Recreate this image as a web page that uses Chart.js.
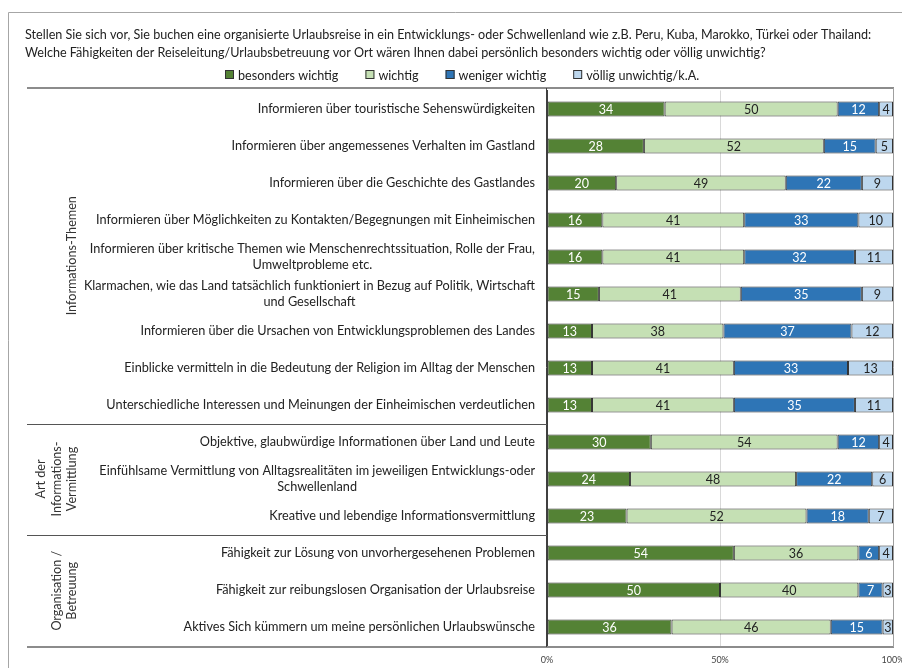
<!DOCTYPE html>
<html><head><meta charset="utf-8">
<script src="https://cdn.jsdelivr.net/npm/chart.js@4.4.1/dist/chart.umd.min.js"></script>
<style>html,body{margin:0;padding:0;background:#fff}#wrap{width:902px;height:668px;position:relative}</style>
</head><body><div id="wrap"><canvas id="c" width="902" height="668"></canvas></div>
<script>
const titleLines = [
  'Stellen Sie sich vor, Sie buchen eine organisierte Urlaubsreise in ein Entwicklungs- oder Schwellenland wie z.B. Peru, Kuba, Marokko, Türkei oder Thailand:',
  'Welche Fähigkeiten der Reiseleitung/Urlaubsbetreuung vor Ort wären Ihnen dabei persönlich besonders wichtig oder völlig unwichtig?'
];
const seriesNames = ['besonders wichtig', 'wichtig', 'weniger wichtig', 'völlig unwichtig/k.A.'];
const categories = [
  ['Informieren über touristische Sehenswürdigkeiten'],
  ['Informieren über angemessenes Verhalten im Gastland'],
  ['Informieren über die Geschichte des Gastlandes'],
  ['Informieren über Möglichkeiten zu Kontakten/Begegnungen mit Einheimischen'],
  ['Informieren über kritische Themen wie Menschenrechtssituation, Rolle der Frau,', 'Umweltprobleme etc.'],
  ['Klarmachen, wie das Land tatsächlich funktioniert in Bezug auf Politik, Wirtschaft', 'und Gesellschaft'],
  ['Informieren über die Ursachen von Entwicklungsproblemen des Landes'],
  ['Einblicke vermitteln in die Bedeutung der Religion im Alltag der Menschen'],
  ['Unterschiedliche Interessen und Meinungen der Einheimischen verdeutlichen'],
  ['Objektive, glaubwürdige Informationen über Land und Leute'],
  ['Einfühlsame Vermittlung von Alltagsrealitäten im jeweiligen Entwicklungs-oder', 'Schwellenland'],
  ['Kreative und lebendige Informationsvermittlung'],
  ['Fähigkeit zur Lösung von unvorhergesehenen Problemen'],
  ['Fähigkeit zur reibungslosen Organisation der Urlaubsreise'],
  ['Aktives Sich kümmern um meine persönlichen Urlaubswünsche']
];
const besondersWichtig = [34, 28, 20, 16, 16, 15, 13, 13, 13, 30, 24, 23, 54, 50, 36];
const wichtig          = [50, 52, 49, 41, 41, 41, 38, 41, 41, 54, 48, 52, 36, 40, 46];
const wenigerWichtig   = [12, 15, 22, 33, 32, 35, 37, 33, 35, 12, 22, 18,  6,  7, 15];
const voelligUnwichtig = [ 4,  5,  9, 10, 11,  9, 12, 13, 11,  4,  6,  7,  4,  3,  3];
const groupLabels = [['Informations-Themen'], ['Art der', 'Informations-', 'Vermittlung'], ['Organisation /', 'Betreuung']];
const groupFirst = [0, 9, 12];
const groupLast  = [8, 11, 14];
const xTickValues = [0, 50, 100];

const FONT = 'Lato';
const colors = ['#548235', '#C5E0B4', '#2E75B6', '#BDD7EE'];
const labelColors = ['#ffffff', '#222222', '#ffffff', '#222222'];
const seriesData = [besondersWichtig, wichtig, wenigerWichtig, voelligUnwichtig];

const decor = {
  id: 'decor',
  beforeDraw(chart) {
    const ctx = chart.ctx;
    ctx.save();
    ctx.strokeStyle = '#a6a6a6';
    ctx.lineWidth = 1;
    ctx.beginPath();
    ctx.moveTo(8.5, 668); ctx.lineTo(8.5, 12.5); ctx.lineTo(902, 12.5);
    ctx.stroke();
    ctx.restore();
  },
  afterDatasetsDraw(chart) {
    const ctx = chart.ctx;
    ctx.save();
    ctx.font = '12.5px ' + FONT;
    ctx.textAlign = 'center';
    ctx.textBaseline = 'middle';
    chart.data.datasets.forEach((ds, di) => {
      const meta = chart.getDatasetMeta(di);
      meta.data.forEach((el, i) => {
        const v = ds.data[i];
        ctx.fillStyle = labelColors[di];
        ctx.fillText(String(v), (el.x + el.base) / 2, el.y + 1);
      });
    });
    ctx.restore();
  },
  afterDraw(chart) {
    const ctx = chart.ctx;
    const ys = chart.scales.y;
    const area = chart.chartArea;
    ctx.save();
    // legend
    ctx.font = '12.6px ' + FONT;
    ctx.textBaseline = 'middle';
    ctx.textAlign = 'left';
    const box = 9, gapBT = 4, gapItem = 27;
    const items = chart.data.datasets.map(ds => ({ text: ds.label, bg: ds.backgroundColor, bc: ds.borderColor, w: box + gapBT + ctx.measureText(ds.label).width }));
    const total = items.reduce((a, it) => a + it.w, 0) + gapItem * (items.length - 1);
    let lx = Math.round(462 - total / 2);
    const ly = 75;
    items.forEach(it => {
      ctx.fillStyle = it.bg;
      ctx.fillRect(lx, ly - 5, box, box);
      ctx.strokeStyle = it.bc;
      ctx.lineWidth = 1;
      ctx.strokeRect(lx + 0.5, ly - 4.5, box - 1, box - 1);
      ctx.fillStyle = '#222';
      ctx.fillText(it.text, lx + box + gapBT, ly + 0.5);
      lx += it.w + gapItem;
    });
    // category labels
    ctx.font = '12.7px ' + FONT;
    ctx.fillStyle = '#222';
    ctx.textAlign = 'center';
    ctx.textBaseline = 'middle';
    const rightX = area.left - 12;
    const lh = 16;
    categories.forEach((lines, i) => {
      const y = ys.getPixelForValue(i);
      const w = Math.max(...lines.map(l => ctx.measureText(l).width));
      const cx = rightX - w / 2;
      lines.forEach((l, k) => {
        ctx.fillText(l, cx, y + (k - (lines.length - 1) / 2) * lh);
      });
    });
    // separators
    const half = (ys.getPixelForValue(1) - ys.getPixelForValue(0)) / 2;
    const topY = 88;
    const botY = 647;
    ctx.strokeStyle = '#8c8c8c';
    ctx.lineWidth = 2;
    ctx.beginPath();
    ctx.moveTo(27, topY); ctx.lineTo(area.right + 1, topY);
    ctx.moveTo(27, botY); ctx.lineTo(area.right + 1, botY);
    ctx.stroke();
    ctx.lineWidth = 1;
    ctx.strokeStyle = '#a0a0a0';
    ctx.beginPath();
    ctx.moveTo(area.right + 0.5, topY); ctx.lineTo(area.right + 0.5, botY);
    ctx.stroke();
    ctx.strokeStyle = '#404040';
    ctx.beginPath();
    ctx.moveTo(area.left - 0.5, topY); ctx.lineTo(area.left - 0.5, botY);
    ctx.stroke();
    ctx.strokeStyle = '#555';
    ctx.beginPath();
    for (let g = 0; g < groupLast.length - 1; g++) {
      const y = Math.round(ys.getPixelForValue(groupLast[g]) + half) + 0.5;
      ctx.moveTo(27, y); ctx.lineTo(area.left, y);
    }
    ctx.stroke();
    // group labels
    ctx.fillStyle = '#333';
    ctx.font = '12.6px ' + FONT;
    const glh = 15.5;
    groupLabels.forEach((lines, g) => {
      const y0 = g === 0 ? topY : ys.getPixelForValue(groupFirst[g]) - half;
      const y1 = g === groupLast.length - 1 ? botY : ys.getPixelForValue(groupLast[g]) + half;
      const cy = (y0 + y1) / 2;
      const cx = 72 - (lines.length - 1) * glh / 2;
      ctx.save();
      ctx.translate(cx, cy);
      ctx.rotate(-Math.PI / 2);
      lines.forEach((l, k) => {
        ctx.fillText(l, 0, (k - (lines.length - 1) / 2) * glh);
      });
      ctx.restore();
    });
    ctx.restore();
  }
};

new Chart(document.getElementById('c'), {
  type: 'bar',
  data: {
    labels: categories,
    datasets: seriesNames.map((name, i) => ({
      label: name,
      data: seriesData[i],
      backgroundColor: colors[i],
      borderColor: '#333333',
      borderWidth: 1,
      borderSkipped: false,
      barPercentage: 0.4,
      categoryPercentage: 1
    }))
  },
  options: {
    indexAxis: 'y',
    responsive: false,
    animation: false,
    layout: { padding: { left: 25, right: 9, top: 26, bottom: 0 } },
    plugins: {
      tooltip: { enabled: false },
      legend: { display: false },
      title: {
        display: true,
        text: titleLines,
        align: 'start',
        color: '#222',
        font: { family: FONT, size: 12.6, weight: 'normal', lineHeight: '18px' },
        padding: { top: 0, bottom: 28.5 }
      }
    },
    scales: {
      x: {
        stacked: true,
        min: 0,
        max: 100,
        afterBuildTicks(s) { s.ticks = xTickValues.map(v => ({ value: v })); },
        afterFit(s) { s.paddingRight = 0; s.paddingLeft = 0; s.height = 22.5; },
        ticks: {
          callback: v => v + '%',
          color: '#444',
          font: { family: FONT, size: 9 },
          padding: 9,
          maxRotation: 0
        },
        grid: {
          drawTicks: false,
          color: ctx => ctx.tick && ctx.tick.value === 50 ? '#d9d9d9' : 'rgba(0,0,0,0)'
        },
        border: { display: false }
      },
      y: {
        stacked: true,
        afterFit(s) { s.width = 522; },
        ticks: { display: false },
        grid: { display: false },
        border: { display: true, color: '#404040', width: 1 }
      }
    }
  },
  plugins: [decor]
});
</script>
</body></html>
